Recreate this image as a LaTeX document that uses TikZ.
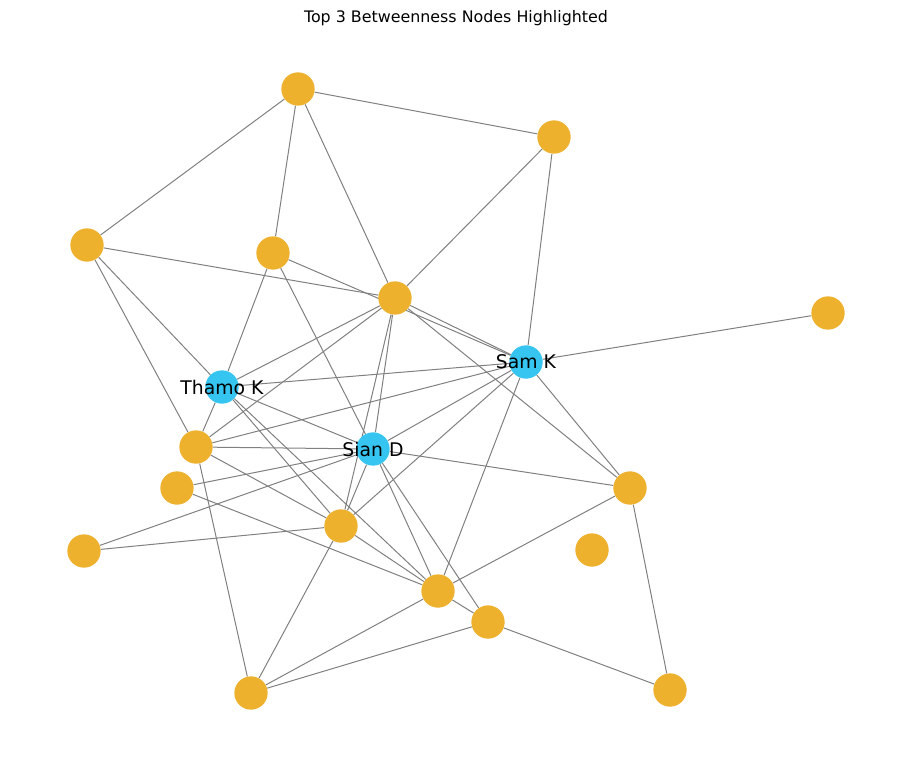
\documentclass[tikz,border=0pt]{standalone}
\usepackage{fontspec}
\setmainfont{DejaVu Sans}
\usepackage{xcolor}
\usepackage{tikz}
\usetikzlibrary{backgrounds}

\definecolor{nodeorange}{HTML}{EDB12E}
\definecolor{hubblue}{HTML}{36C5F0}
\definecolor{edgegray}{HTML}{808080}

\begin{document}
\begin{tikzpicture}[
    x=0.75pt, y=-0.75pt,
    person/.style={circle, fill=nodeorange, minimum size=25pt, inner sep=0pt},
    hub/.style={circle, fill=hubblue, minimum size=25pt, inner sep=0pt},
    hublabel/.style={label={[font=\fontsize{14.1}{16}\selectfont, inner sep=0pt]center:#1}},
    edge/.style={draw=edgegray, line width=0.75pt}
]
    \useasboundingbox (0,0) rectangle (912,764);

    \node [font=\fontsize{11.9}{14}\selectfont, anchor=base] (title) at (456,22) {Top 3 Betweenness Nodes Highlighted};

    % highlighted nodes
    \node [hub, hublabel=Sam K] (sam) at (526,362) {};
    \node [hub, hublabel=Thamo K] (thamo) at (222,387) {};
    \node [hub, hublabel=Sian D] (sian) at (373,449) {};

    % other nodes
    \node [person] (a) at (298,89) {};
    \node [person] (b) at (554,137) {};
    \node [person] (c) at (87,245) {};
    \node [person] (d) at (273,253) {};
    \node [person] (e) at (395,298) {};
    \node [person] (f) at (828,313) {};
    \node [person] (g) at (196,447) {};
    \node [person] (h) at (177,488) {};
    \node [person] (i) at (630,488) {};
    \node [person] (j) at (84,551) {};
    \node [person] (k) at (341,526) {};
    \node [person] (l) at (592,550) {};
    \node [person] (m) at (438,591) {};
    \node [person] (n) at (488,622) {};
    \node [person] (o) at (251,693) {};
    \node [person] (p) at (670,690) {};

    \begin{scope}[on background layer]
        \draw [edge] (a) -- (b) (a) -- (c) (a) -- (d) (a) -- (e);
        \draw [edge] (b) -- (e) (b) -- (sam);
        \draw [edge] (c) -- (e) (c) -- (thamo) (c) -- (g);
        \draw [edge] (d) -- (thamo) (d) -- (sam) (d) -- (sian);
        \draw [edge] (e) -- (sam) (e) -- (i) (e) -- (thamo) (e) -- (g) (e) -- (k) (e) -- (sian);
        \draw [edge] (f) -- (sam);
        \draw [edge] (sam) -- (thamo) (sam) -- (g) (sam) -- (sian) (sam) -- (k) (sam) -- (m) (sam) -- (i);
        \draw [edge] (thamo) -- (g) (thamo) -- (sian) (thamo) -- (k) (thamo) -- (m);
        \draw [edge] (g) -- (sian) (g) -- (k) (g) -- (o);
        \draw [edge] (h) -- (sian) (h) -- (m);
        \draw [edge] (j) -- (sian) (j) -- (k);
        \draw [edge] (k) -- (sian) (k) -- (m) (k) -- (o);
        \draw [edge] (sian) -- (i) (sian) -- (m) (sian) -- (n);
        \draw [edge] (i) -- (m) (i) -- (p);
        \draw [edge] (m) -- (n) (m) -- (o);
        \draw [edge] (n) -- (o) (n) -- (p);
    \end{scope}
\end{tikzpicture}
\end{document}
